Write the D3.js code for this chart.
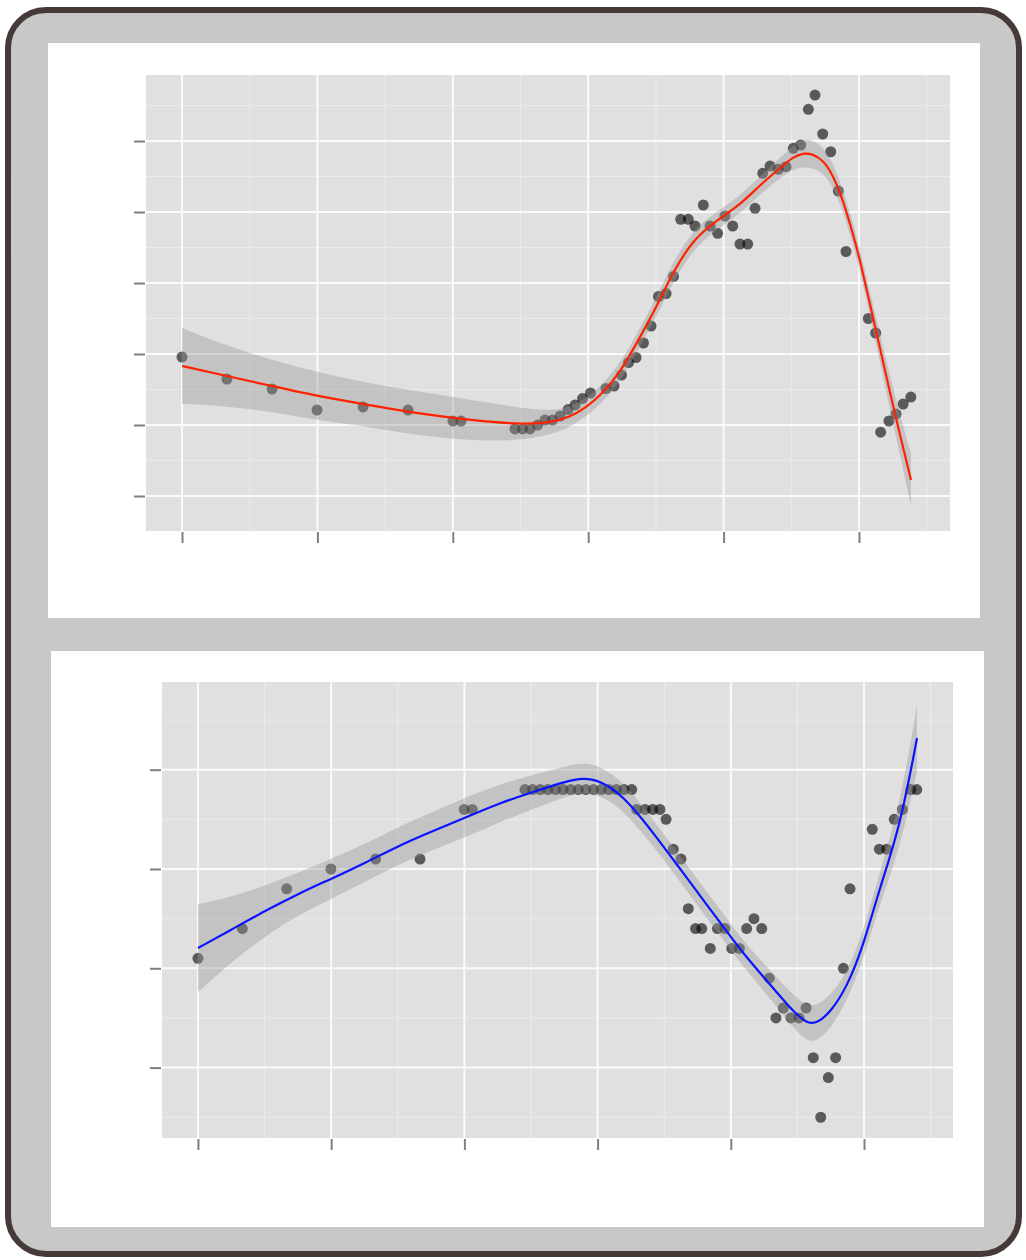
<!DOCTYPE html>
<html>
<head>
<meta charset="utf-8">
<script src="https://cdn.jsdelivr.net/npm/d3@7"></script>
<style>
  html, body { margin: 0; padding: 0; background: #ffffff; }
  svg { display: block; font-family: "Liberation Sans", Arial, sans-serif; }
</style>
</head>
<body>
<svg id="chart" width="1026" height="1260"></svg>
<script>
// ---------------- DATA ----------------
// tick values (no tick labels are printed in the original)
const xTicks = [0, 10, 20, 30, 40, 50];
const xMinorTicks = [5, 15, 25, 35, 45, 55];
const topYTicks = [0, 10, 20, 30, 40, 50];
const topYMinorTicks = [-5, 5, 15, 25, 35, 45, 55];
const bottomYTicks = [0, 10, 20, 30];
const bottomYMinorTicks = [-5, 5, 15, 25, 35];

// top panel: observations
const topX = [0, 3.32, 6.65, 9.97, 13.37, 16.69, 20.01, 20.61, 24.59, 25.15,
  25.70, 26.26, 26.81, 27.36, 27.92, 28.51, 29.03, 29.58, 30.17, 31.31,
  31.91, 32.46, 32.98, 33.53, 34.08, 34.64, 35.19, 35.75, 36.30, 36.83,
  37.39, 37.89, 38.50, 39.00, 39.56, 40.10, 40.67, 41.21, 41.78, 42.32,
  42.89, 43.43, 44.04, 44.61, 45.15, 45.69, 46.26, 46.75, 47.32, 47.91,
  48.47, 49.04, 50.69, 51.23, 51.60, 52.21, 52.73, 53.26, 53.83];
const topY = [19.58, 16.48, 15.07, 12.11, 12.54, 12.11, 10.56, 10.56, 9.44, 9.44,
  9.44, 10.00, 10.70, 10.70, 11.27, 12.18, 12.82, 13.73, 14.51, 15.14,
  15.49, 17.04, 18.80, 19.51, 21.55, 23.94, 28.10, 28.52, 30.92, 38.97,
  38.97, 38.03, 40.99, 38.03, 37.00, 39.44, 38.03, 35.49, 35.49, 40.52,
  45.45, 46.48, 46.01, 46.38, 48.97, 49.44, 54.46, 56.48, 50.99, 48.49,
  42.96, 34.44, 25.00, 22.96, 8.99, 10.56, 11.55, 12.96, 13.94];

// top panel: smoothed fit and half-width of its confidence band
const topFitX = [0, 3.32, 6.65, 9.97, 13.37, 16.69, 20.01, 22.75, 25.04, 27.18,
  28.66, 29.76, 30.87, 32.35, 33.83, 35.08, 36.26, 37.74, 39.22, 41.21,
  42.69, 44.17, 45.13, 45.86, 46.60, 47.34, 48.08, 48.82, 49.56, 50.07,
  50.74, 51.55, 52.29, 53.03, 53.84];
const topFitY = [18.31, 16.90, 15.49, 14.08, 12.96, 11.83, 10.99, 10.42, 10.14, 10.28,
  11.13, 12.39, 14.08, 17.32, 22.39, 26.76, 31.55, 36.06, 38.45, 40.99,
  43.80, 46.20, 47.75, 48.31, 48.17, 47.32, 45.21, 41.69, 36.90, 33.24,
  27.61, 20.85, 14.51, 8.59, 2.25];
const topFitHalf = [5.35, 4.23, 3.66, 3.38, 3.10, 3.10, 2.96, 2.68, 2.25, 1.69,
  1.41, 1.27, 1.27, 1.27, 1.27, 1.41, 1.41, 1.41, 1.27, 1.27,
  1.27, 1.41, 1.69, 1.97, 1.97, 1.83, 1.69, 1.55, 1.55, 1.55,
  1.69, 1.97, 2.39, 2.82, 3.66];

// bottom panel: observations
const bottomX = [0, 3.33, 6.66, 9.98, 13.34, 16.67, 19.99, 20.59,
  24.55, 25.12, 25.69, 26.27, 26.84, 27.41, 27.98, 28.55, 29.12, 29.70,
  30.27, 30.84, 31.41, 31.98, 32.56,
  32.94, 33.56, 34.14, 34.68, 35.14, 35.68, 36.26, 36.81, 37.35, 37.82,
  38.46, 39.00, 39.56, 40.07, 40.64, 41.19, 41.74, 42.32, 42.89, 43.39,
  43.94, 44.52, 45.12, 45.65, 46.19, 46.75, 47.32, 47.87, 48.45, 48.95,
  50.62, 51.15, 51.70, 52.27, 52.88, 53.51, 53.96];
const bottomY = [11, 14, 18, 20, 21, 21, 26, 26,
  28, 28, 28, 28, 28, 28, 28, 28, 28, 28,
  28, 28, 28, 28, 28,
  26, 26, 26, 26, 25, 22, 21, 16, 14, 14,
  12, 14, 14, 12, 12, 14, 15, 14, 9, 5,
  6, 5, 5, 6, 1, -5, -1, 1, 10, 18,
  24, 22, 22, 25, 26, 28, 28];

// bottom panel: smoothed fit and half-width of its confidence band
const bottomFitX = [0, 2.40, 5.16, 7.66, 9.98, 12.54, 15.17, 17.64, 20.17, 22.67,
  25.15, 27.70, 28.90, 29.95, 30.93, 31.91, 33.18, 34.46, 35.66, 36.71,
  38.21, 40.17, 41.22, 42.72, 44.44, 45.72, 46.47, 47.45, 48.72, 49.92,
  51.20, 52.70, 53.98];
const bottomFitY = [12.04, 13.81, 15.87, 17.59, 18.99, 20.60, 22.42, 23.83, 25.24, 26.65,
  27.76, 28.86, 29.16, 28.96, 28.26, 27.25, 25.34, 23.12, 20.97, 19.09,
  16.37, 12.85, 11.04, 8.72, 6.00, 4.39, 4.49, 5.50, 8.12, 12.15,
  18.19, 24.23, 33.19];
const bottomFitHalf = [4.43, 3.32, 2.52, 2.11, 2.01, 1.91, 1.91, 1.91, 2.01, 1.91,
  1.71, 1.51, 1.51, 1.51, 1.41, 1.41, 1.41, 1.31, 1.31, 1.31,
  1.31, 1.31, 1.31, 1.41, 1.61, 1.81, 1.81, 1.71, 1.41, 1.41,
  1.61, 2.22, 3.32];

// ---------------- DRAWING ----------------
const svg = d3.select("#chart");

// outer rounded frame
svg.append("rect")
  .attr("x", 8).attr("y", 10).attr("width", 1011).attr("height", 1244)
  .attr("rx", 38).attr("ry", 38)
  .attr("fill", "#c8c8c8").attr("stroke", "#463a38").attr("stroke-width", 6);

const panels = [
  {
    card: { x: 48, y: 43, w: 932, h: 575 },
    plot: { x0: 146, x1: 950, y0: 75, y1: 531 },
    xDomain: [-2.66, 56.72], yDomain: [-4.93, 59.30],
    yTicks: topYTicks, yMinor: topYMinorTicks,
    px: topX, py: topY, fx: topFitX, fy: topFitY, fh: topFitHalf,
    lineColor: "#ff2200"
  },
  {
    card: { x: 51, y: 651, w: 933, h: 576 },
    plot: { x0: 162, x1: 953, y0: 682, y1: 1138 },
    xDomain: [-2.70, 56.68], yDomain: [-7.09, 38.83],
    yTicks: bottomYTicks, yMinor: bottomYMinorTicks,
    px: bottomX, py: bottomY, fx: bottomFitX, fy: bottomFitY, fh: bottomFitHalf,
    lineColor: "#0a14ff"
  }
];

const smooth = d3.curveBasis;

panels.forEach(p => {
  // white card
  svg.append("rect")
    .attr("x", p.card.x).attr("y", p.card.y)
    .attr("width", p.card.w).attr("height", p.card.h)
    .attr("fill", "#ffffff");

  const x = d3.scaleLinear().domain(p.xDomain).range([p.plot.x0, p.plot.x1]);
  const y = d3.scaleLinear().domain(p.yDomain).range([p.plot.y1, p.plot.y0]);

  const g = svg.append("g");
  const clipId = "clip" + p.plot.y0;
  svg.append("clipPath").attr("id", clipId).append("rect")
    .attr("x", p.plot.x0).attr("y", p.plot.y0)
    .attr("width", p.plot.x1 - p.plot.x0).attr("height", p.plot.y1 - p.plot.y0);

  // panel background
  g.append("rect")
    .attr("x", p.plot.x0).attr("y", p.plot.y0)
    .attr("width", p.plot.x1 - p.plot.x0).attr("height", p.plot.y1 - p.plot.y0)
    .attr("fill", "#e0e0e0");

  const inner = g.append("g").attr("clip-path", `url(#${clipId})`);

  // minor grid
  inner.selectAll(".vminor").data(xMinorTicks).join("line")
    .attr("x1", d => x(d)).attr("x2", d => x(d))
    .attr("y1", p.plot.y0).attr("y2", p.plot.y1)
    .attr("stroke", "#ebebeb").attr("stroke-width", 1);
  inner.selectAll(".hminor").data(p.yMinor).join("line")
    .attr("y1", d => y(d)).attr("y2", d => y(d))
    .attr("x1", p.plot.x0).attr("x2", p.plot.x1)
    .attr("stroke", "#ebebeb").attr("stroke-width", 1);
  // major grid
  inner.selectAll(".vmajor").data(xTicks).join("line")
    .attr("x1", d => x(d)).attr("x2", d => x(d))
    .attr("y1", p.plot.y0).attr("y2", p.plot.y1)
    .attr("stroke", "#fafafa").attr("stroke-width", 2);
  inner.selectAll(".hmajor").data(p.yTicks).join("line")
    .attr("y1", d => y(d)).attr("y2", d => y(d))
    .attr("x1", p.plot.x0).attr("x2", p.plot.x1)
    .attr("stroke", "#fafafa").attr("stroke-width", 2);

  // points
  inner.selectAll("circle").data(p.px.map((v, i) => [v, p.py[i]])).join("circle")
    .attr("cx", d => x(d[0])).attr("cy", d => y(d[1])).attr("r", 5.5)
    .attr("fill", "#000000").attr("fill-opacity", 0.6);

  // confidence band
  const fit = p.fx.map((v, i) => ({ x: v, y: p.fy[i], h: p.fh[i] }));
  inner.append("path").datum(fit)
    .attr("d", d3.area()
      .x(d => x(d.x)).y0(d => y(d.y - d.h)).y1(d => y(d.y + d.h))
      .curve(smooth))
    .attr("fill", "#999999").attr("fill-opacity", 0.4);

  // fitted line
  inner.append("path").datum(fit)
    .attr("d", d3.line().x(d => x(d.x)).y(d => y(d.y)).curve(smooth))
    .attr("fill", "none").attr("stroke", p.lineColor).attr("stroke-width", 2.2);

  // axis tick marks (no labels)
  const xAxis = d3.axisBottom(x).tickValues(xTicks).tickSize(11).tickFormat("");
  const xa = g.append("g").attr("transform", `translate(0,${p.plot.y1 + 1})`).call(xAxis);
  xa.select(".domain").remove();
  xa.selectAll(".tick line").attr("stroke", "#808080").attr("stroke-width", 2);

  const yAxis = d3.axisLeft(y).tickValues(p.yTicks).tickSize(11).tickFormat("");
  const ya = g.append("g").attr("transform", `translate(${p.plot.x0 - 1},0)`).call(yAxis);
  ya.select(".domain").remove();
  ya.selectAll(".tick line").attr("stroke", "#808080").attr("stroke-width", 2);
});
</script>
</body>
</html>
